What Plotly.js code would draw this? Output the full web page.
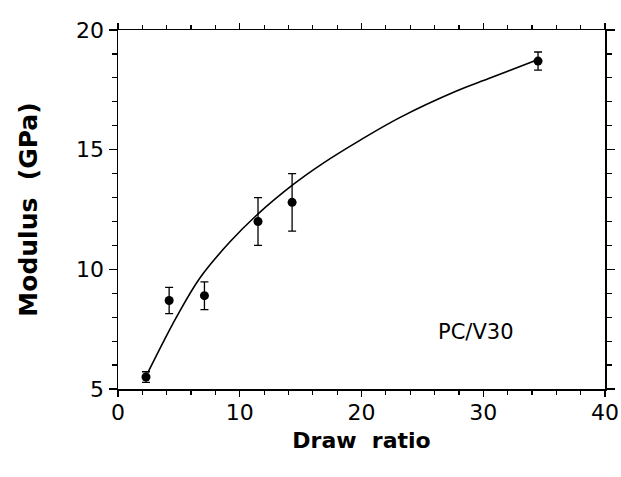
<!DOCTYPE html>
<html>
<head>
<meta charset="utf-8">
<script src="https://cdn.plot.ly/plotly-3.0.1.min.js"></script>
<style>html,body{margin:0;padding:0;background:#fff;}#chart{width:621px;height:477px;}</style>
</head>
<body>
<div id="chart"></div>
<script>
// Measured data points (draw ratio, modulus GPa, error)
var drawRatio = [2.3, 4.2, 7.1, 11.5, 14.3, 34.5];
var modulus = [5.5, 8.7, 8.9, 12.0, 12.8, 18.7];
var modulusErr = [0.22, 0.55, 0.58, 1.0, 1.2, 0.38];

// Fitted curve
var curveX = [2.45, 4.8, 6.7, 9.2, 11.55, 14.4, 16.8, 19.9, 23.1, 27.8, 30.5, 34.4];
var curveY = [5.68, 8.0, 9.62, 11.15, 12.34, 13.55, 14.42, 15.4, 16.33, 17.45, 17.98, 18.75];

var label = "PC/V30";

var traces = [
  {
    x: curveX, y: curveY, type: 'scatter', mode: 'lines',
    line: {color: '#000', width: 1.6, shape: 'spline', smoothing: 1},
    hoverinfo: 'skip', showlegend: false
  },
  {
    x: drawRatio, y: modulus, type: 'scatter', mode: 'markers',
    marker: {color: '#000', size: 9},
    error_y: {type: 'data', array: modulusErr, visible: true, color: '#000', thickness: 1.3, width: 4},
    showlegend: false
  }
];

var fontFam = 'DejaVu Sans, Liberation Sans, Arial, sans-serif';

var layout = {
  width: 621, height: 477,
  margin: {l: 118, r: 16, t: 30, b: 88},
  paper_bgcolor: '#fff', plot_bgcolor: '#fff',
  font: {family: fontFam, color: '#000', size: 20},
  xaxis: {
    range: [0, 40], dtick: 10, tick0: 0,
    ticks: 'outside', ticklen: 6, tickwidth: 1.3, tickcolor: '#000',
    minor: {dtick: 2, ticks: 'outside', ticklen: 4, tickwidth: 1.2, tickcolor: '#000'},
    showline: true, linecolor: '#000', linewidth: 1.5, mirror: 'allticks',
    showgrid: false, zeroline: false,
    tickfont: {size: 22, family: fontFam},
    ticklabelstandoff: -3,
    automargin: 'bottom',
    title: {text: 'Draw\u00a0\u00a0ratio', font: {size: 22, family: fontFam, weight: 'bold'}, standoff: 8}
  },
  yaxis: {
    range: [5, 20], dtick: 5, tick0: 5,
    ticks: 'outside', ticklen: 8, tickwidth: 1.3, tickcolor: '#000',
    minor: {dtick: 1, ticks: 'outside', ticklen: 5, tickwidth: 1.2, tickcolor: '#000'},
    showline: true, linecolor: '#000', linewidth: 1.5, mirror: 'allticks',
    showgrid: false, zeroline: false,
    tickfont: {size: 22, family: fontFam},
    automargin: 'left',
    title: {text: 'Modulus\u00a0\u00a0(GPa)', font: {size: 25, family: fontFam, weight: 'bold'}, standoff: 31}
  },
  annotations: [
    {x: 29.4, y: 7.38, xref: 'x', yref: 'y', text: label, showarrow: false,
     font: {size: 21, family: fontFam, color: '#000'}}
  ]
};

Plotly.newPlot('chart', traces, layout, {displayModeBar: false, staticPlot: true});
</script>
</body>
</html>
